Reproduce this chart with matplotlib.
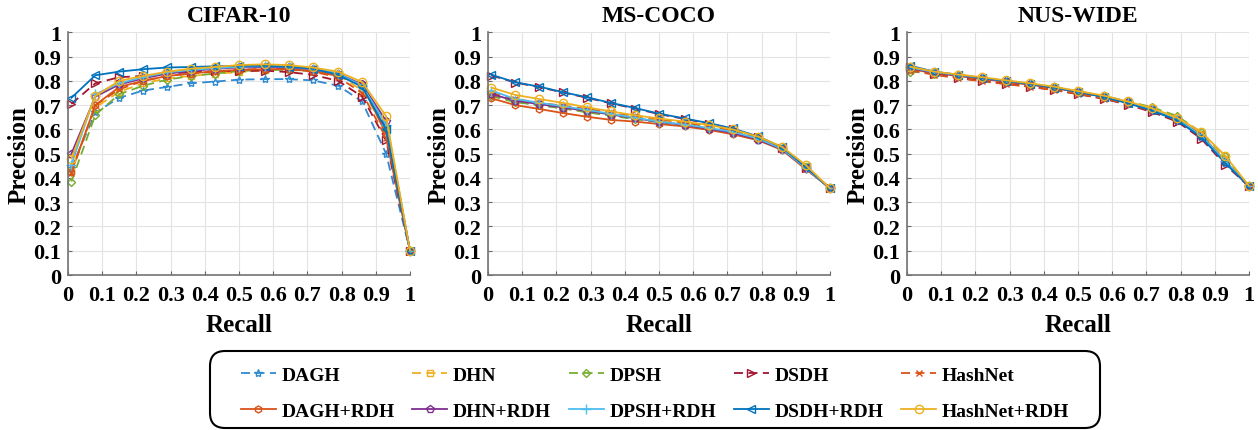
import matplotlib
matplotlib.use("Agg")
import matplotlib.pyplot as plt
from matplotlib.patches import FancyBboxPatch

recall = [0.01, 0.08, 0.15, 0.22, 0.29, 0.36, 0.43, 0.50, 0.575, 0.645, 0.715, 0.79, 0.86, 0.93, 1.0]

methods = ["DAGH", "DHN", "DPSH", "DSDH", "HashNet",
           "DAGH+RDH", "DHN+RDH", "DPSH+RDH", "DSDH+RDH", "HashNet+RDH"]

datasets = ["CIFAR-10", "MS-COCO", "NUS-WIDE"]

cifar = {
    "DAGH":        [0.44, 0.67, 0.73, 0.76, 0.775, 0.79, 0.797, 0.805, 0.807, 0.807, 0.802, 0.78, 0.715, 0.50, 0.10],
    "DHN":         [0.43, 0.69, 0.755, 0.79, 0.81, 0.82, 0.83, 0.835, 0.845, 0.848, 0.84, 0.825, 0.76, 0.60, 0.10],
    "DPSH":        [0.385, 0.66, 0.745, 0.78, 0.805, 0.82, 0.83, 0.84, 0.845, 0.845, 0.84, 0.825, 0.78, 0.61, 0.10],
    "DSDH":        [0.705, 0.79, 0.815, 0.82, 0.83, 0.835, 0.84, 0.84, 0.842, 0.836, 0.825, 0.80, 0.735, 0.555, 0.10],
    "HashNet":     [0.42, 0.70, 0.765, 0.80, 0.82, 0.83, 0.838, 0.845, 0.85, 0.848, 0.838, 0.815, 0.75, 0.565, 0.10],
    "DAGH+RDH":    [0.425, 0.70, 0.775, 0.80, 0.82, 0.83, 0.84, 0.845, 0.848, 0.848, 0.84, 0.82, 0.785, 0.58, 0.10],
    "DHN+RDH":     [0.50, 0.735, 0.785, 0.81, 0.83, 0.84, 0.85, 0.855, 0.857, 0.855, 0.848, 0.83, 0.785, 0.635, 0.10],
    "DPSH+RDH":    [0.455, 0.745, 0.79, 0.815, 0.835, 0.845, 0.852, 0.858, 0.86, 0.858, 0.85, 0.83, 0.78, 0.62, 0.10],
    "DSDH+RDH":    [0.73, 0.823, 0.838, 0.848, 0.855, 0.857, 0.86, 0.862, 0.862, 0.858, 0.85, 0.825, 0.775, 0.60, 0.10],
    "HashNet+RDH": [0.48, 0.738, 0.80, 0.82, 0.838, 0.85, 0.857, 0.865, 0.868, 0.865, 0.855, 0.838, 0.795, 0.655, 0.10],
}

coco = {
    "DAGH":        [0.74, 0.715, 0.70, 0.687, 0.674, 0.66, 0.645, 0.632, 0.62, 0.604, 0.587, 0.558, 0.518, 0.44, 0.357],
    "DHN":         [0.742, 0.715, 0.705, 0.69, 0.675, 0.664, 0.65, 0.636, 0.624, 0.61, 0.593, 0.565, 0.525, 0.448, 0.357],
    "DPSH":        [0.737, 0.712, 0.70, 0.686, 0.67, 0.656, 0.642, 0.63, 0.618, 0.603, 0.587, 0.56, 0.52, 0.445, 0.357],
    "DSDH":        [0.822, 0.793, 0.774, 0.752, 0.73, 0.707, 0.686, 0.663, 0.643, 0.624, 0.602, 0.569, 0.524, 0.442, 0.357],
    "HashNet":     [0.75, 0.725, 0.71, 0.697, 0.684, 0.67, 0.656, 0.643, 0.628, 0.613, 0.594, 0.565, 0.522, 0.445, 0.357],
    "DAGH+RDH":    [0.728, 0.70, 0.684, 0.667, 0.652, 0.639, 0.632, 0.622, 0.612, 0.598, 0.58, 0.555, 0.515, 0.435, 0.357],
    "DHN+RDH":     [0.745, 0.718, 0.704, 0.69, 0.676, 0.661, 0.646, 0.631, 0.618, 0.603, 0.586, 0.558, 0.518, 0.44, 0.357],
    "DPSH+RDH":    [0.76, 0.725, 0.71, 0.695, 0.68, 0.664, 0.648, 0.632, 0.62, 0.606, 0.59, 0.562, 0.52, 0.44, 0.357],
    "DSDH+RDH":    [0.825, 0.794, 0.776, 0.753, 0.732, 0.709, 0.688, 0.665, 0.645, 0.626, 0.604, 0.571, 0.526, 0.444, 0.357],
    "HashNet+RDH": [0.772, 0.742, 0.725, 0.709, 0.691, 0.674, 0.658, 0.645, 0.632, 0.618, 0.60, 0.57, 0.528, 0.452, 0.357],
}

nus = {
    "DAGH":        [0.85, 0.828, 0.815, 0.802, 0.79, 0.778, 0.765, 0.748, 0.728, 0.705, 0.675, 0.635, 0.568, 0.46, 0.365],
    "DHN":         [0.845, 0.83, 0.818, 0.806, 0.794, 0.782, 0.77, 0.753, 0.733, 0.71, 0.682, 0.642, 0.58, 0.478, 0.365],
    "DPSH":        [0.838, 0.83, 0.82, 0.81, 0.798, 0.786, 0.773, 0.757, 0.738, 0.716, 0.692, 0.655, 0.588, 0.49, 0.365],
    "DSDH":        [0.855, 0.83, 0.812, 0.80, 0.788, 0.776, 0.762, 0.745, 0.726, 0.702, 0.672, 0.632, 0.562, 0.455, 0.365],
    "HashNet":     [0.842, 0.825, 0.81, 0.798, 0.786, 0.775, 0.762, 0.746, 0.727, 0.705, 0.676, 0.637, 0.572, 0.465, 0.365],
    "DAGH+RDH":    [0.848, 0.832, 0.82, 0.808, 0.796, 0.784, 0.771, 0.754, 0.734, 0.71, 0.682, 0.642, 0.578, 0.47, 0.365],
    "DHN+RDH":     [0.852, 0.834, 0.822, 0.81, 0.798, 0.786, 0.772, 0.755, 0.735, 0.711, 0.68, 0.64, 0.572, 0.465, 0.365],
    "DPSH+RDH":    [0.855, 0.836, 0.824, 0.812, 0.80, 0.788, 0.774, 0.756, 0.736, 0.712, 0.682, 0.642, 0.575, 0.47, 0.365],
    "DSDH+RDH":    [0.862, 0.838, 0.825, 0.812, 0.80, 0.787, 0.772, 0.755, 0.733, 0.708, 0.678, 0.637, 0.568, 0.462, 0.365],
    "HashNet+RDH": [0.858, 0.838, 0.826, 0.815, 0.802, 0.79, 0.776, 0.758, 0.739, 0.715, 0.688, 0.648, 0.59, 0.492, 0.367],
}

all_data = [cifar, coco, nus]

colors = {
    "DAGH": "#2f8ad0", "DHN": "#EDB120", "DPSH": "#77AC30", "DSDH": "#A2142F",
    "HashNet": "#D95319", "DAGH+RDH": "#D95319", "DHN+RDH": "#7E2F8E",
    "DPSH+RDH": "#4DBEEE", "DSDH+RDH": "#0072BD", "HashNet+RDH": "#EDB120",
}
markers = {
    "DAGH": "*", "DHN": "s", "DPSH": "D", "DSDH": ">", "HashNet": "x",
    "DAGH+RDH": "h", "DHN+RDH": "p", "DPSH+RDH": "+", "DSDH+RDH": "<", "HashNet+RDH": "o",
}
msizes = {
    "DAGH": 6, "DHN": 5, "DPSH": 4.5, "DSDH": 6, "HashNet": 5,
    "DAGH+RDH": 5, "DHN+RDH": 6, "DPSH+RDH": 7, "DSDH+RDH": 6, "HashNet+RDH": 6,
}

serif = ["Liberation Serif", "DejaVu Serif"]
plt.rcParams["font.family"] = serif
plt.rcParams["font.weight"] = "bold"

W, H = 1258, 431
fig = plt.figure(figsize=(W / 100, H / 100), dpi=100)
lefts = [68, 488, 907]
axw = 342 / W
axb = 1 - 276 / H
axh = 242.7 / H

handles = {}
for i, (name, data) in enumerate(zip(datasets, all_data)):
    ax = fig.add_axes([lefts[i] / W, axb, axw, axh])
    for m in methods:
        dashed = "+RDH" not in m
        ln, = ax.plot(recall, data[m], linestyle=(0, (5, 3)) if dashed else "-",
                      color=colors[m], marker=markers[m], markersize=msizes[m],
                      markerfacecolor="none", markeredgewidth=1.0, linewidth=1.3,
                      label=m, clip_on=False)
        handles[m] = ln
    ax.set_xlim(0, 1)
    ax.set_ylim(0, 1)
    ticks = [round(0.1 * k, 1) for k in range(11)]
    lbls = ["0"] + [f"{t:.1f}" for t in ticks[1:-1]] + ["1"]
    ax.set_xticks(ticks)
    ax.set_yticks(ticks)
    ax.set_xticklabels(lbls)
    ax.set_yticklabels(lbls)
    ax.tick_params(direction="in", length=3, width=0.8, color="0.4",
                   labelsize=16, pad=5)
    ax.tick_params(axis="x", pad=7)
    for lab in ax.get_xticklabels() + ax.get_yticklabels():
        lab.set_fontweight("bold")
    ax.grid(True, color="#e3e3e3", linewidth=0.8)
    ax.set_axisbelow(True)
    ax.spines["top"].set_visible(False)
    ax.spines["right"].set_visible(False)
    for s in ("left", "bottom"):
        ax.spines[s].set_color("0.45")
        ax.spines[s].set_linewidth(1.2)
    ax.set_title(name, fontsize=17, fontweight="bold", pad=8)
    ax.set_xlabel("Recall", fontsize=18, fontweight="bold", labelpad=6)
    ax.set_ylabel("Precision", fontsize=18, fontweight="bold", labelpad=2)

# legend frame (rounded box)
bx0, by0, bx1, by1 = 210, 352, 1100, 429
box = FancyBboxPatch((bx0 / W, 1 - by1 / H), (bx1 - bx0) / W, (by1 - by0) / H,
                     boxstyle="round,pad=0,rounding_size=0.012",
                     transform=fig.transFigure, facecolor="white",
                     edgecolor="black", linewidth=1.5, mutation_aspect=W / H)
fig.patches.append(box)

order = []
for a, b in zip(methods[:5], methods[5:]):
    order += [a, b]
leg = fig.legend([handles[m] for m in order], order, ncol=5, loc="center",
                 bbox_to_anchor=((bx0 + bx1) / 2 / W, 1 - 394 / H),
                 prop={"family": serif, "weight": "bold", "size": 14},
                 frameon=False,
                 handlelength=1.8, handletextpad=0.3, columnspacing=0.9,
                 labelspacing=0.95, borderpad=0.3)

fig.savefig("out.png", dpi=100)
